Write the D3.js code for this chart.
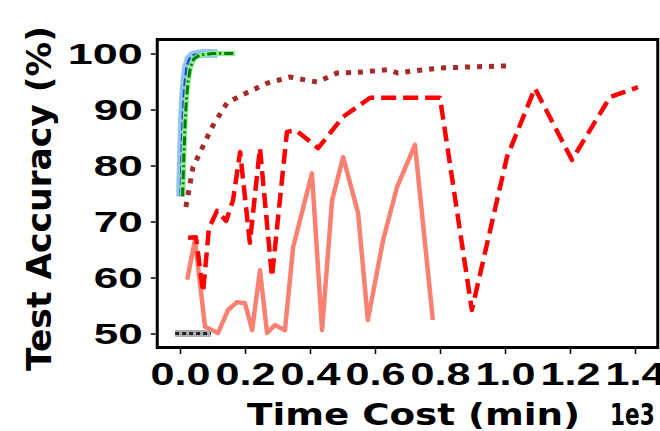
<!DOCTYPE html>
<html>
<head>
<meta charset="utf-8">
<script src="https://cdn.jsdelivr.net/npm/d3@7"></script>
<style>
  body { margin: 0; background: #fff; }
  svg { display: block; font-family: "DejaVu Sans", sans-serif; font-weight: bold; }
</style>
</head>
<body>
<div id="chart"></div>
<script>
// values (x in minutes, y in %)
const xTicks = [0, 200, 400, 600, 800, 1000, 1200, 1400];
const xTickLabels = ["0.0", "0.2", "0.4", "0.6", "0.8", "1.0", "1.2", "1.4"];
const yTicks = [50, 60, 70, 80, 90, 100];

const blueX = [2, 5, 8, 11, 15, 20, 28, 40, 70, 115];
const blueY = [74.5, 82, 88, 92, 95, 97.5, 99, 99.7, 100, 100];

const greenX = [8, 12, 16, 20, 25, 32, 42, 60, 100, 170];
const greenY = [74.5, 82, 88, 92, 95, 97.5, 99, 99.7, 100, 100];

const grayX = [-15, 10, 30, 50, 70, 95];
const grayY = [50, 50, 50, 50, 50, 50];

const dottedX = [18, 40, 100, 145, 206, 268, 338, 422, 483, 563, 637, 671, 717, 800, 892, 1009];
const dottedY = [72.6, 79.7, 87, 91.2, 93, 94.7, 95.8, 94.9, 96.5, 96.7, 97.1, 96.5, 96.9, 97.4, 97.6, 97.8];

const dashedX = [25, 49, 71, 89, 114, 142, 163, 185, 215, 246, 283, 329, 357, 425, 502, 585, 800, 898, 1006, 1092, 1206, 1323, 1409];
const dashedY = [67.1, 67.2, 57.4, 68.8, 71.9, 70.1, 73.8, 82.4, 66.2, 83.1, 60.1, 86.0, 86.3, 83.1, 88.7, 92.1, 92.1, 54.2, 81.5, 93.8, 81.0, 92.2, 94.0];

const salmonX = [22, 46, 77, 117, 148, 175, 200, 222, 246, 268, 292, 323, 348, 406, 437, 468, 502, 548, 578, 625, 668, 723, 778];
const salmonY = [59.6, 66.7, 51.2, 50.1, 54.2, 55.6, 55.4, 50.6, 61.3, 50.1, 51.5, 50.6, 65.4, 78.6, 50.6, 73.8, 81.5, 71.5, 52.4, 66.7, 76.2, 83.7, 52.4];

const width = 660, height = 431;
const margin = {top: 39.5, right: 2.25, bottom: 83.5, left: 157.25};

const svg = d3.select('#chart').append('svg')
    .attr('width', width)
    .attr('height', height);

const x = d3.scaleLinear().domain([-70, 1470]).range([margin.left, width - margin.right]);
const y = d3.scaleLinear().domain([47.5, 102.5]).range([height - margin.bottom, margin.top]);

const line = d3.line().x(d => x(d[0])).y(d => y(d[1]));
const pts = (xs, ys) => xs.map((v, i) => [v, ys[i]]);

const plot = svg.append('g');

function drawLine(xs, ys, color, w, dash, opacity) {
    plot.append('path')
        .datum(pts(xs, ys))
        .attr('d', line)
        .attr('fill', 'none')
        .attr('stroke', color)
        .attr('stroke-width', w)
        .attr('stroke-dasharray', dash || null)
        .attr('stroke-linejoin', 'round')
        .attr('opacity', opacity == null ? 1 : opacity);
}

// salmon solid
drawLine(salmonX, salmonY, '#fa8072', 4.5);
// red dashed
drawLine(dashedX, dashedY, '#ff0000', 4.5, '15,7');
// brown dotted
drawLine(dottedX, dottedY, '#a52a2a', 5, '5,7');
// grey band at 50
drawLine(grayX, grayY, '#9a9a9a', 7, null, 0.8);
drawLine(grayX, grayY, '#222', 3, '4,3');
// blue band + dashed
drawLine(blueX, blueY, '#6fb0e8', 9, null, 0.75);
drawLine(blueX, blueY, '#2050d0', 2.5, '8,3');
// green band + dash-dot
drawLine(greenX, greenY, '#90ee90', 5);
drawLine(greenX, greenY, '#008000', 3, '9,3,2,3');

// frame
svg.append('rect')
    .attr('x', x(-70))
    .attr('y', y(102.5))
    .attr('width', x(1470) - x(-70))
    .attr('height', y(47.5) - y(102.5))
    .attr('fill', 'none')
    .attr('stroke', '#000')
    .attr('stroke-width', 3);

// axes
const xAxis = svg.append('g')
    .attr('transform', 'translate(0,' + (y(47.5) + 1.5) + ')')
    .call(d3.axisBottom(x).tickValues(xTicks).tickFormat((d, i) => xTickLabels[i]).tickSize(5).tickPadding(8));
xAxis.select('.domain').remove();
xAxis.selectAll('line').attr('stroke-width', 1.5);
xAxis.selectAll('text')
    .attr('font-size', 32)
    .attr('font-weight', 'bold')
    .attr('fill', '#000')
    .attr('textLength', 60)
    .attr('lengthAdjust', 'spacingAndGlyphs');

const yAxis = svg.append('g')
    .attr('transform', 'translate(' + (x(-70) - 1.5) + ',0)')
    .call(d3.axisLeft(y).tickValues(yTicks).tickSize(5).tickPadding(8));
yAxis.select('.domain').remove();
yAxis.selectAll('line').attr('stroke-width', 1.5);
yAxis.selectAll('text')
    .attr('font-size', 30)
    .attr('font-weight', 'bold')
    .attr('fill', '#000')
    .attr('textLength', d => d === 100 ? 75 : 49)
    .attr('lengthAdjust', 'spacingAndGlyphs');

// labels
svg.append('text')
    .attr('x', 247)
    .attr('y', 425)
    .attr('font-size', 30)
    .attr('textLength', 333)
    .attr('lengthAdjust', 'spacingAndGlyphs')
    .text('Time Cost (min)');

// offset text, squeezed horizontally like in the picture
svg.append('text')
    .attr('transform', 'translate(610,425) scale(0.72,1)')
    .attr('font-size', 30)
    .text('1e3');

svg.append('text')
    .attr('transform', 'translate(51,371) rotate(-90)')
    .attr('font-size', 34.5)
    .text('Test Accuracy (%)');
</script>
</body>
</html>
